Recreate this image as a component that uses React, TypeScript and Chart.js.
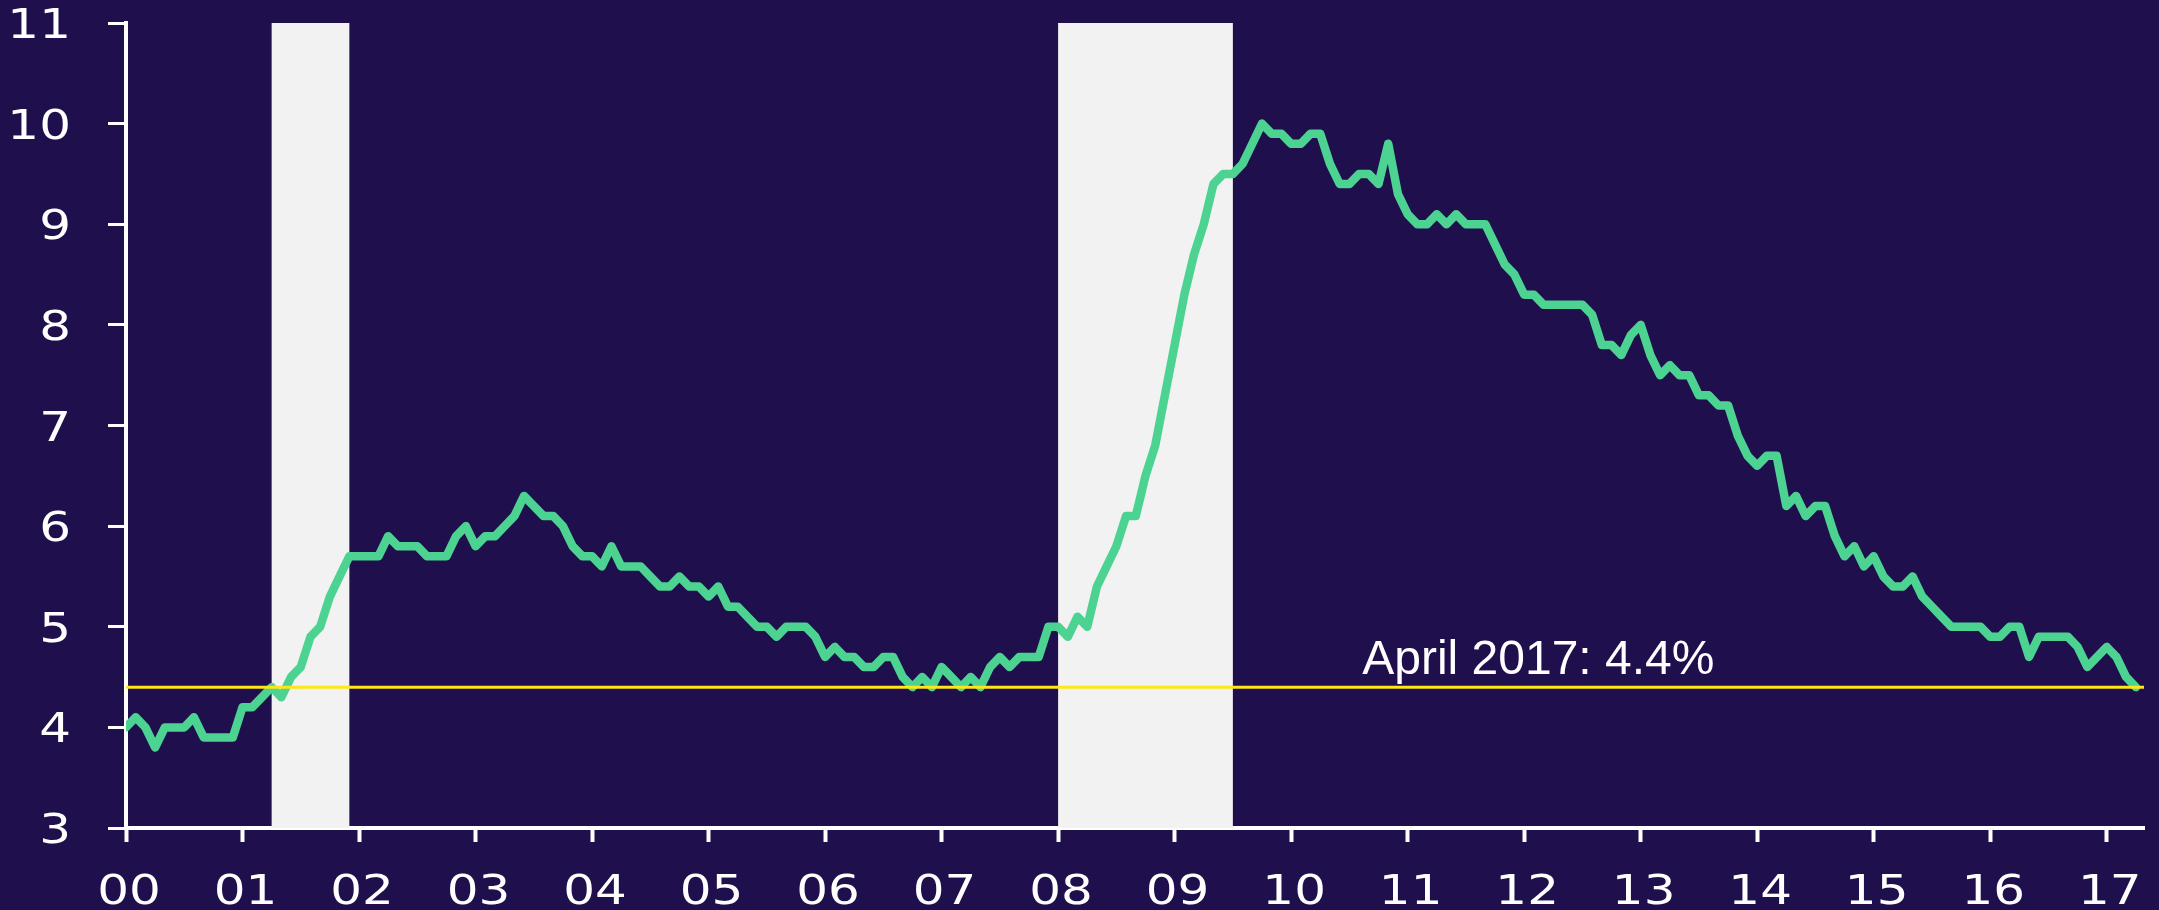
import React, { useEffect, useRef } from "react";
import { Chart, registerables } from "chart.js";

Chart.register(...registerables);

// Monthly US unemployment rate (%), Jan 2000 – Apr 2017
const rate2000 = [4.0, 4.1, 4.0, 3.8, 4.0, 4.0, 4.0, 4.1, 3.9, 3.9, 3.9, 3.9];
const rate2001 = [4.2, 4.2, 4.3, 4.4, 4.3, 4.5, 4.6, 4.9, 5.0, 5.3, 5.5, 5.7];
const rate2002 = [5.7, 5.7, 5.7, 5.9, 5.8, 5.8, 5.8, 5.7, 5.7, 5.7, 5.9, 6.0];
const rate2003 = [5.8, 5.9, 5.9, 6.0, 6.1, 6.3, 6.2, 6.1, 6.1, 6.0, 5.8, 5.7];
const rate2004 = [5.7, 5.6, 5.8, 5.6, 5.6, 5.6, 5.5, 5.4, 5.4, 5.5, 5.4, 5.4];
const rate2005 = [5.3, 5.4, 5.2, 5.2, 5.1, 5.0, 5.0, 4.9, 5.0, 5.0, 5.0, 4.9];
const rate2006 = [4.7, 4.8, 4.7, 4.7, 4.6, 4.6, 4.7, 4.7, 4.5, 4.4, 4.5, 4.4];
const rate2007 = [4.6, 4.5, 4.4, 4.5, 4.4, 4.6, 4.7, 4.6, 4.7, 4.7, 4.7, 5.0];
const rate2008 = [5.0, 4.9, 5.1, 5.0, 5.4, 5.6, 5.8, 6.1, 6.1, 6.5, 6.8, 7.3];
const rate2009 = [7.8, 8.3, 8.7, 9.0, 9.4, 9.5, 9.5, 9.6, 9.8, 10.0, 9.9, 9.9];
const rate2010 = [9.8, 9.8, 9.9, 9.9, 9.6, 9.4, 9.4, 9.5, 9.5, 9.4, 9.8, 9.3];
const rate2011 = [9.1, 9.0, 9.0, 9.1, 9.0, 9.1, 9.0, 9.0, 9.0, 8.8, 8.6, 8.5];
const rate2012 = [8.3, 8.3, 8.2, 8.2, 8.2, 8.2, 8.2, 8.1, 7.8, 7.8, 7.7, 7.9];
const rate2013 = [8.0, 7.7, 7.5, 7.6, 7.5, 7.5, 7.3, 7.3, 7.2, 7.2, 6.9, 6.7];
const rate2014 = [6.6, 6.7, 6.7, 6.2, 6.3, 6.1, 6.2, 6.2, 5.9, 5.7, 5.8, 5.6];
const rate2015 = [5.7, 5.5, 5.4, 5.4, 5.5, 5.3, 5.2, 5.1, 5.0, 5.0, 5.0, 5.0];
const rate2016 = [4.9, 4.9, 5.0, 5.0, 4.7, 4.9, 4.9, 4.9, 4.9, 4.8, 4.6, 4.7];
const rate2017 = [4.8, 4.7, 4.5, 4.4];

const yearlyRates = [
  rate2000, rate2001, rate2002, rate2003, rate2004, rate2005, rate2006,
  rate2007, rate2008, rate2009, rate2010, rate2011, rate2012, rate2013,
  rate2014, rate2015, rate2016, rate2017,
];

// Recessions (years since Jan 2000)
const recessionStart = [1.25, 8.0];
const recessionEnd = [1.917, 9.5];

// Reference level
const latestRate = 4.4;
const latestLabel = "April 2017: 4.4%";
const latestLabelX = 10.61;

// Axes
const xTickLabels = ["00", "01", "02", "03", "04", "05", "06", "07", "08", "09", "10", "11", "12", "13", "14", "15", "16", "17"];
const xMin = 0;
const xMax = 17.32;
const yMin = 3;
const yMax = 11;

const BG = "#1F0F4D";
const GREEN = "#4CD391";
const YELLOW = "#FFE619";
const SHADE = "#F2F2F2";

export default function App() {
  const canvasRef = useRef<HTMLCanvasElement | null>(null);

  useEffect(() => {
    const canvas = canvasRef.current;
    if (!canvas) return;

    const points: { x: number; y: number }[] = [];
    yearlyRates.forEach((arr, yi) => {
      arr.forEach((v, mi) => points.push({ x: yi + mi / 12, y: v }));
    });

    const shadePlugin = {
      id: "recessionShade",
      beforeDatasetsDraw(chart: any) {
        const { ctx, chartArea } = chart;
        const xs = chart.scales.x;
        ctx.save();
        ctx.fillStyle = SHADE;
        recessionStart.forEach((s, i) => {
          const x1 = xs.getPixelForValue(s);
          const x2 = xs.getPixelForValue(recessionEnd[i]);
          ctx.fillRect(x1, chartArea.top, x2 - x1, chartArea.bottom - chartArea.top);
        });
        ctx.restore();
      },
    };

    const labelPlugin = {
      id: "customLabels",
      afterDraw(chart: any) {
        const { ctx } = chart;
        const xs = chart.scales.x;
        const ys = chart.scales.y;
        ctx.save();
        ctx.fillStyle = "#FFFFFF";
        ctx.font = '41px "DejaVu Sans"';
        ctx.textBaseline = "alphabetic";
        // y tick labels
        ys.ticks.forEach((t: any) => {
          const py = ys.getPixelForValue(t.value);
          ctx.save();
          ctx.translate(71, py + 15);
          ctx.scale(1.22, 1);
          ctx.textAlign = "right";
          ctx.fillText(String(t.value), 0, 0);
          ctx.restore();
        });
        // x tick labels
        xs.ticks.forEach((t: any) => {
          const idx = Math.round(t.value);
          const lbl = xTickLabels[idx];
          if (lbl === undefined) return;
          const px = xs.getPixelForValue(t.value);
          ctx.save();
          ctx.translate(px + 3, 904);
          ctx.scale(1.22, 1);
          ctx.textAlign = "center";
          ctx.fillText(lbl, 0, 0);
          ctx.restore();
        });
        // annotation
        ctx.font = '48px "Liberation Sans", Arial, sans-serif';
        ctx.textAlign = "left";
        ctx.fillText(latestLabel, xs.getPixelForValue(latestLabelX), ys.getPixelForValue(latestRate) - 13);
        ctx.restore();
      },
    };

    const chart = new Chart(canvas, {
      type: "line",
      data: {
        datasets: [
          {
            label: "Latest",
            data: [
              { x: xMin, y: latestRate },
              { x: xMax, y: latestRate },
            ],
            borderColor: YELLOW,
            borderWidth: 3,
            pointRadius: 0,
            fill: false,
            order: 0,
          },
          {
            label: "Unemployment rate",
            data: points,
            borderColor: GREEN,
            borderWidth: 8.5,
            pointRadius: 0,
            tension: 0,
            fill: false,
            borderJoinStyle: "round",
            borderCapStyle: "round",
            order: 1,
          },
        ],
      },
      options: {
        animation: false,
        responsive: true,
        maintainAspectRatio: false,
        layout: { padding: { left: 108, top: 23, right: 15, bottom: 68 } },
        plugins: {
          legend: { display: false },
          tooltip: { enabled: false },
        },
        scales: {
          x: {
            type: "linear",
            min: xMin,
            max: xMax,
            ticks: { display: false, stepSize: 1, includeBounds: false },
            grid: {
              drawOnChartArea: false,
              drawTicks: true,
              tickLength: 14,
              tickWidth: 4,
              tickColor: "#FFFFFF",
            },
            border: { display: true, color: "#FFFFFF", width: 4 },
          },
          y: {
            type: "linear",
            min: yMin,
            max: yMax,
            ticks: { display: false, stepSize: 1, includeBounds: false },
            grid: {
              drawOnChartArea: false,
              drawTicks: true,
              tickLength: 18,
              tickWidth: 3,
              tickColor: "#FFFFFF",
            },
            border: { display: true, color: "#FFFFFF", width: 4 },
          },
        },
      },
      plugins: [shadePlugin, labelPlugin],
    });

    return () => chart.destroy();
  }, []);

  return (
    <div style={{ position: "absolute", left: 0, top: 0, width: 2159, height: 910, background: BG }}>
      <style>{`html,body{margin:0;padding:0;background:${BG};overflow:hidden;}`}</style>
      <canvas ref={canvasRef} />
    </div>
  );
}
